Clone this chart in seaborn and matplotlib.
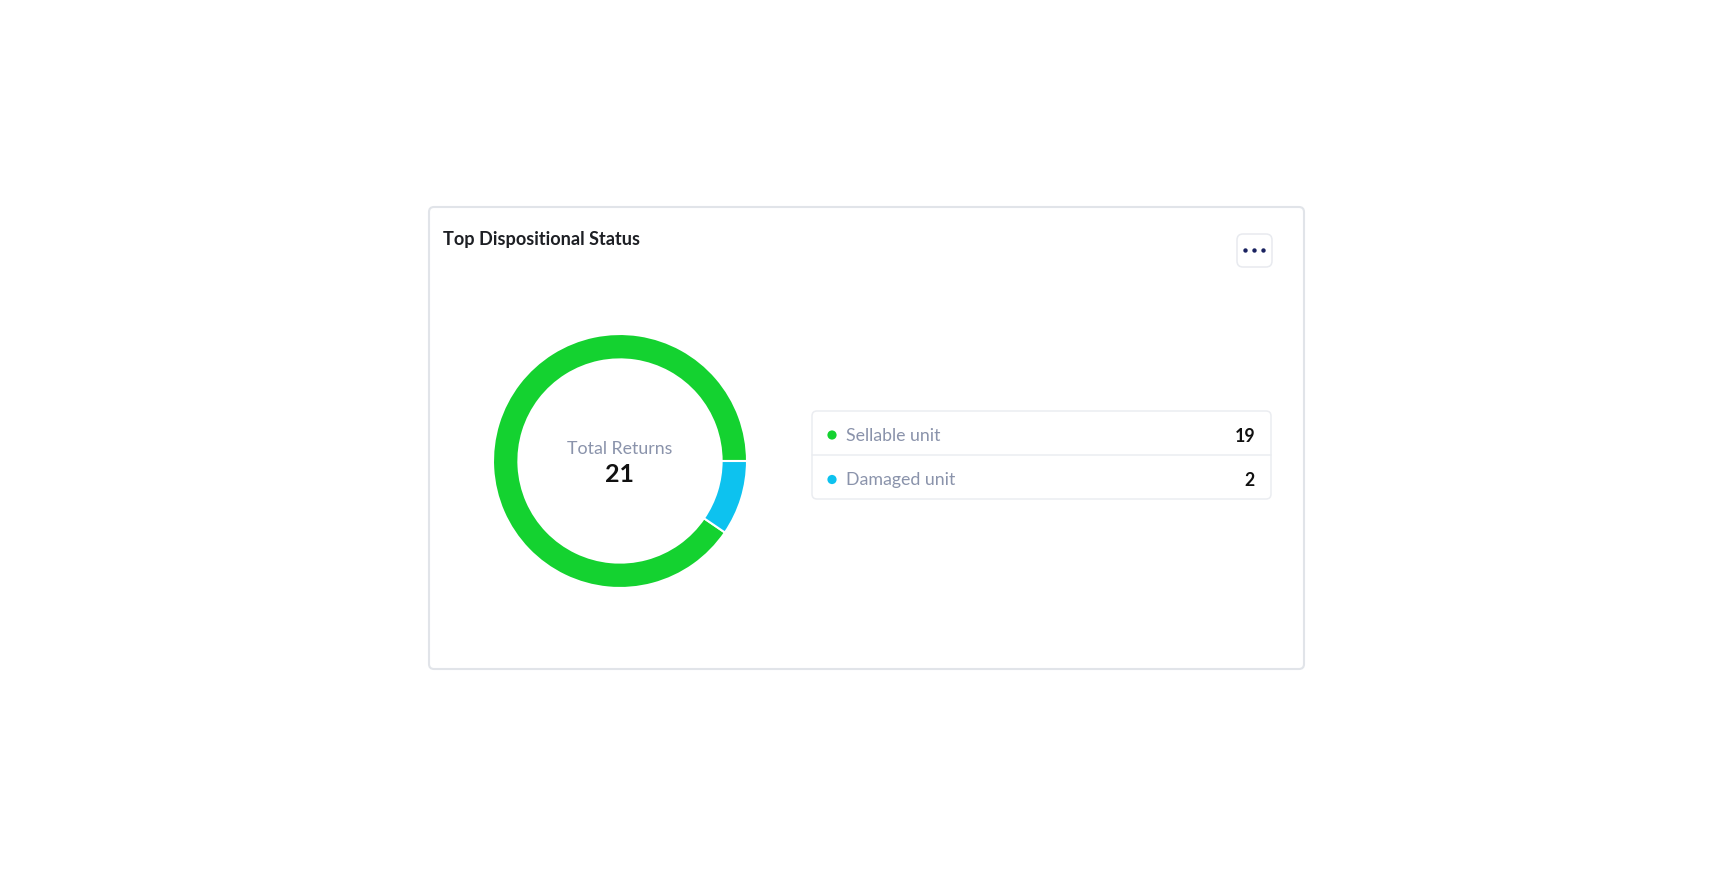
import matplotlib
matplotlib.use("Agg")
import matplotlib.pyplot as plt
import seaborn as sns
from matplotlib.patches import FancyBboxPatch, Circle

categories = ["Sellable unit", "Damaged unit"]
values = [19, 2]
colors = ["#14D230", "#0DC2EF"]
title = "Top Dispositional Status"
center_label = "Total Returns"

sns.set_theme(style="white")
plt.rcParams['font.family'] = ['Lato', 'DejaVu Sans']

W, H = 1734, 876
fig = plt.figure(figsize=(W / 100, H / 100), dpi=100)
fig.patch.set_facecolor("white")

# background pixel-space axes
bg = fig.add_axes([0, 0, 1, 1])
bg.set_xlim(0, W)
bg.set_ylim(H, 0)
bg.axis("off")

# card
bg.add_patch(FancyBboxPatch((429, 207), 875, 462, boxstyle="round,pad=0,rounding_size=5",
                            fc="white", ec="#E1E4E9", lw=1.5))
bg.text(443, 239, title, fontsize=13.1, fontweight="bold", color="#1d1f24", va="center", ha="left")

# menu button
bg.add_patch(FancyBboxPatch((1237, 234), 35, 33, boxstyle="round,pad=0,rounding_size=6",
                            fc="white", ec="#E8EAEF", lw=1.1))
for dx in (-9, 0, 9):
    bg.add_patch(Circle((1254.5 + dx, 250.5), 2.2, fc="#1a2260", ec="none"))

# legend box
bg.add_patch(FancyBboxPatch((812, 411), 459, 88, boxstyle="round,pad=0,rounding_size=5",
                            fc="white", ec="#EBEDF1", lw=1.1))
bg.plot([812, 1271], [455, 455], color="#EBEDF1", lw=1.1)
row_y = [436, 480.5]
for lab, val, col, y in zip(categories, values, colors, row_y):
    bg.add_patch(Circle((832, y - 1), 4.6, fc=col, ec="none"))
    bg.text(846, y, lab, fontsize=12.8, color="#8A93AB", va="center", ha="left")
    bg.text(1255, y, str(val), fontsize=12.8, fontweight="bold", color="#111111", va="center", ha="right")

# donut
cx, cy, r = 620, 461, 127
ax = fig.add_axes([(cx - r) / W, (H - cy - r) / H, 2 * r / W, 2 * r / H])
ax.pie(values, colors=colors, startangle=0, counterclock=True, radius=1,
       wedgeprops=dict(width=0.2, edgecolor="white", linewidth=1.5))
ax.set_xlim(-1.0, 1.0)
ax.set_ylim(-1.0, 1.0)
ax.set_aspect("equal")
ax.axis("off")

bg.text(cx, 449, center_label, fontsize=12.8, color="#8A93AB", va="center", ha="center")
bg.text(cx, 474, str(sum(values)), fontsize=18, fontweight="bold", color="#111111", va="center", ha="center")

fig.savefig("out.png", dpi=100, facecolor="white")
